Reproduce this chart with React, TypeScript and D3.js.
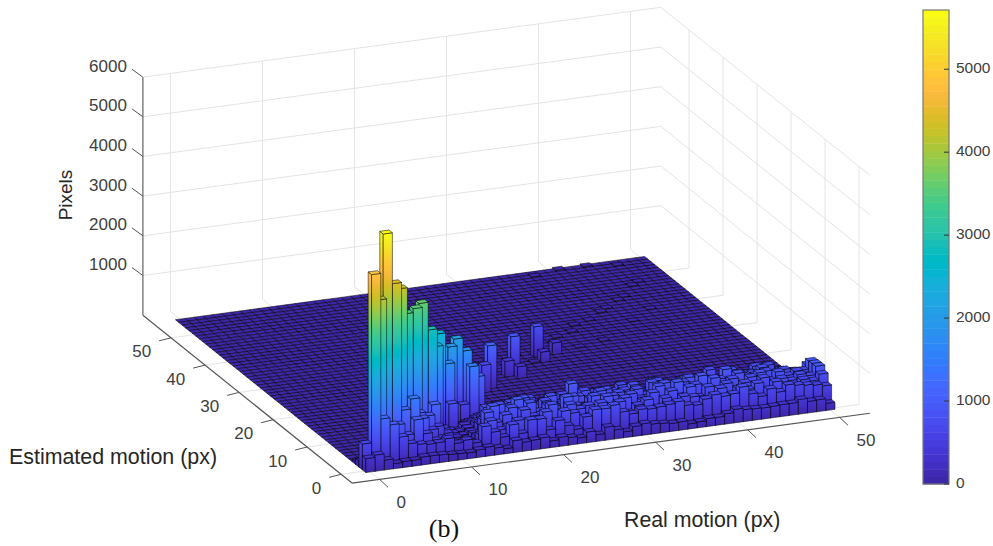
import React, { useEffect, useRef } from 'react';
import * as d3 from 'd3';

// MATLAB parula, 64 steps
const parula: number[][] = [
  [0.2422, 0.1504, 0.6603], [0.2504, 0.165, 0.7076], [0.2578, 0.1818, 0.7511], [0.2647, 0.1978, 0.7952],
  [0.2706, 0.2147, 0.8364], [0.2751, 0.2342, 0.871], [0.2783, 0.2559, 0.8991], [0.2803, 0.2782, 0.9221],
  [0.2813, 0.3006, 0.9414], [0.281, 0.3228, 0.9579], [0.2795, 0.3447, 0.9717], [0.276, 0.3667, 0.9829],
  [0.2699, 0.3892, 0.9906], [0.2602, 0.4123, 0.9952], [0.244, 0.4358, 0.9988], [0.2206, 0.4603, 0.9973],
  [0.1963, 0.4847, 0.9892], [0.1834, 0.5074, 0.9798], [0.1786, 0.5289, 0.9682], [0.1764, 0.5499, 0.952],
  [0.1687, 0.5703, 0.9359], [0.154, 0.5902, 0.9218], [0.146, 0.6091, 0.9079], [0.138, 0.6276, 0.8973],
  [0.1248, 0.6459, 0.8883], [0.1113, 0.6635, 0.8763], [0.0952, 0.6798, 0.8598], [0.0689, 0.6948, 0.8394],
  [0.0297, 0.7082, 0.8163], [0.0036, 0.7203, 0.7917], [0.0067, 0.7312, 0.766], [0.0433, 0.7411, 0.7394],
  [0.0964, 0.75, 0.712], [0.1408, 0.7584, 0.6842], [0.1717, 0.767, 0.6554], [0.1938, 0.7758, 0.6251],
  [0.2161, 0.7843, 0.5923], [0.247, 0.7918, 0.5567], [0.2906, 0.7973, 0.5188], [0.3406, 0.8008, 0.4789],
  [0.3909, 0.8029, 0.4354], [0.4456, 0.8024, 0.3909], [0.5044, 0.7993, 0.348], [0.5616, 0.7942, 0.3045],
  [0.6174, 0.7876, 0.2612], [0.672, 0.7793, 0.2227], [0.7242, 0.7698, 0.191], [0.7738, 0.7598, 0.1646],
  [0.8203, 0.7498, 0.1535], [0.8634, 0.7406, 0.1596], [0.9035, 0.733, 0.1774], [0.9393, 0.7288, 0.21],
  [0.9728, 0.7298, 0.2394], [0.9956, 0.7434, 0.2371], [0.997, 0.7659, 0.2199], [0.9952, 0.7893, 0.2028],
  [0.9892, 0.8136, 0.1885], [0.9786, 0.8386, 0.1766], [0.9676, 0.8639, 0.1643], [0.961, 0.889, 0.1537],
  [0.9597, 0.9135, 0.1423], [0.9628, 0.9373, 0.1265], [0.9691, 0.9606, 0.1064], [0.9769, 0.9839, 0.0805],
];

const motionTicks = [0, 10, 20, 30, 40, 50];
const pixelTicks = [1000, 2000, 3000, 4000, 5000, 6000];
const colorbarTicks = [0, 1000, 2000, 3000, 4000, 5000];
const maxPixels = 5714;
const colCount = 51;
const rowCount = 56;

// pixels per real motion column (x = 0..50), one array per estimated motion row
const est0 = [350,410,250,130,150,150,200,200,190,170,160,150,190,230,180,130,300,230,250,280,170,230,190,150,270,170,330,230,150,250,290,250,230,200,210,130,150,200,200,260,340,300,290,280,290,300,300,370,290,300,180];
const est1 = [650,300,1220,1040,700,500,450,420,430,500,350,400,300,680,510,350,630,380,690,680,380,580,420,300,580,730,720,780,580,500,580,560,580,610,650,530,500,620,700,630,660,800,600,500,660,550,700,660,630,600,550];
const est2 = [150,300,600,820,940,650,1000,620,420,330,300,260,240,420,720,460,520,640,480,560,760,460,720,640,400,520,800,620,760,460,620,720,460,700,520,680,640,560,480,760,520,700,640,760,500,740,620,560,700,640,780];
const est3 = [60,100,300,400,500,1210,1460,930,620,380,250,210,220,320,860,580,740,460,800,620,500,840,560,780,640,700,460,860,560,760,520,640,800,560,780,620,820,540,760,600,780,520,740,620,800,580,720,640,760,700,910];
const est4 = [0,0,60,250,500,600,900,1000,900,600,400,260,200,300,620,920,580,820,600,880,640,760,520,900,660,620,840,520,780,500,760,620,560,860,640,900,560,780,640,880,660,800,560,780,860,640,820,700,780,640,910];
const est5 = [0,0,0,100,300,400,600,800,700,1080,450,300,220,280,440,640,860,560,920,660,520,800,640,660,820,560,700,860,520,760,580,780,620,520,840,660,800,540,900,620,760,680,840,560,740,800,600,780,720,700,900];
const est6 = [0,0,0,0,120,260,400,500,500,500,350,300,240,300,400,760,500,700,600,860,520,640,820,620,560,720,620,500,800,620,720,820,560,820,600,740,600,820,560,720,680,900,600,660,720,820,620,700,640,620,750];
const est7 = [0,0,0,0,0,120,220,300,300,300,260,220,200,300,360,480,620,440,720,500,760,560,640,560,520,600,760,460,560,660,780,460,600,540,760,560,540,720,500,640,620,540,780,600,660,560,780,640,560,540,500];
const est8 = [0,0,0,0,0,0,100,160,180,200,180,160,800,240,300,400,420,620,460,680,400,500,540,500,660,900,500,620,480,560,480,640,420,460,700,580,460,620,480,560,780,460,640,500,580,720,500,540,480,420,300];
const est9 = [0,0,0,0,0,0,0,60,100,120,120,100,120,160,200,280,300,260,320,460,280,340,380,520,300,360,340,280,500,400,340,260,460,320,380,560,320,360,340,480,360,320,380,540,420,400,340,380,320,240,120];
const est10 = [0,0,0,0,0,0,0,0,30,50,60,60,80,100,580,160,180,140,180,170,150,200,220,190,160,200,180,140,180,220,180,130,140,170,200,230,170,190,170,220,190,160,200,180,220,210,170,190,150,100,50];
const est11 = [0,0,0,0,0,0,0,0,0,0,20,30,40,50,60,70,80,60,80,70,60,90,100,80,70,90,80,60,80,100,80,60,60,70,90,100,70,80,70,100,80,70,90,80,100,90,70,80,60,40,20];
const estRows = [est0, est1, est2, est3, est4, est5, est6, est7, est8, est9, est10, est11];

// isolated cells: the diagonal ridge and the small bars along it
const ridgeX = [1,2,3,4,5,6,7,7,8,9,10,11,12,13,14,15,15,16,20,21,24,25,25,29,29,31];
const ridgeY = [1,2,3,3,4,5,5,6,6,6,7,9,9,11,12,12,10,11,20,21,24,25,23,29,27,29];
const ridgeZ = [4890,4150,5714,4430,4200,3470,3570,2660,3600,2900,2380,2530,1745,2000,2100,1770,1510,1160,700,1090,400,920,300,770,270,300];

// tiny bumps on the otherwise empty floor
const bumpX = [30,32,33,35,36,38,40,41,43,44,46,47,34,37,42,45,28,27,38,41,44,47];
const bumpY = [30,32,34,35,37,38,40,41,43,44,47,48,30,31,36,39,27,30,54,55,55,54];
const bumpZ = [30,40,25,35,30,20,30,25,25,20,25,20,20,25,15,20,35,20,30,35,30,25];

const width = 993;
const height = 546;
const origin = [368.7, 470.6];
const xLim = [-3, 53.3];
const yLim = [-3.2, 58.3];

const xToLeft = d3.scaleLinear().domain([0, 50]).range([0, 460]);
const xToTop = d3.scaleLinear().domain([0, 50]).range([0, -62]);
const yToLeft = d3.scaleLinear().domain([0, 50]).range([0, -170]);
const yToTop = d3.scaleLinear().domain([0, 50]).range([0, -136.5]);
const zToTop = d3.scaleLinear().domain([0, 6000]).range([0, -238]);

const project = (x: number, y: number, z: number): [number, number] => [
  origin[0] + xToLeft(x) + yToLeft(y),
  origin[1] + xToTop(x) + yToTop(y) + zToTop(z),
];

const rgb = (c: number[]) => d3.rgb(c[0] * 255, c[1] * 255, c[2] * 255).formatHex();
const colorIndex = d3.scaleQuantize<number>().domain([0, maxPixels]).range(d3.range(64));
const poly = (pts: [number, number][]) => pts.map(p => p.map(v => v.toFixed(2)).join(',')).join(' ');

function App() {
  const ref = useRef<SVGSVGElement>(null);

  useEffect(() => {
    const svg = d3.select(ref.current);
    svg.selectAll('*').remove();
    const defs = svg.append('defs');

    const cells = d3.range(rowCount).map(() => d3.range(colCount).map(() => 0));
    estRows.forEach((row, y) => row.forEach((v, x) => { cells[y][x] = v; }));
    bumpX.forEach((x, i) => { cells[bumpY[i]][x] = bumpZ[i]; });
    ridgeX.forEach((x, i) => { cells[ridgeY[i]][x] = ridgeZ[i]; });

    const line = (a: [number, number], b: [number, number], stroke: string, w: number) =>
      svg.append('line').attr('x1', a[0]).attr('y1', a[1]).attr('x2', b[0]).attr('y2', b[1])
        .attr('stroke', stroke).attr('stroke-width', w);

    const grid = '#e4e4e4';
    // walls and floor grid
    pixelTicks.forEach(z => {
      line(project(xLim[0], yLim[1], z), project(xLim[1], yLim[1], z), grid, 1);
      line(project(xLim[1], yLim[1], z), project(xLim[1], yLim[0], z), grid, 1);
    });
    motionTicks.forEach(t => {
      line(project(t, yLim[1], 0), project(t, yLim[1], 6000), grid, 1);
      line(project(xLim[1], t, 0), project(xLim[1], t, 6000), grid, 1);
      line(project(t, yLim[0], 0), project(t, yLim[1], 0), grid, 1);
      line(project(xLim[0], t, 0), project(xLim[1], t, 0), grid, 1);
    });

    // axes
    const axisColor = '#555555';
    line(project(xLim[0], yLim[0], 0), project(xLim[1], yLim[0], 0), axisColor, 1.2);
    line(project(xLim[0], yLim[0], 0), project(xLim[0], yLim[1], 0), axisColor, 1.2);
    line(project(xLim[0], yLim[1], 0), project(xLim[0], yLim[1], 6000), '#777777', 1.4);

    const tickFont = 'Liberation Sans, Arial, sans-serif';
    const label = (x: number, y: number, text: string, anchor: string, size: number, fill: string) =>
      svg.append('text').attr('x', x).attr('y', y).attr('text-anchor', anchor)
        .attr('dominant-baseline', 'middle').attr('font-family', tickFont)
        .attr('font-size', size).attr('fill', fill).text(text);

    motionTicks.forEach(t => {
      const a = project(t, yLim[0], 0);
      line(a, [a[0] + 8.5, a[1] + 8], axisColor, 1);
      label(a[0] + 17, a[1] + 24, String(t), 'start', 17, '#404040');
      const b = project(xLim[0], t, 0);
      line(b, [b[0] - 12, b[1] + 3], axisColor, 1);
      label(b[0] - 20, b[1] + 15, String(t), 'end', 17, '#404040');
    });
    pixelTicks.forEach(z => {
      const a = project(xLim[0], yLim[1], z);
      line(a, [a[0] - 11, a[1] - 8], axisColor, 1);
      label(a[0] - 16, a[1] - 10, String(z), 'end', 17, '#404040');
    });

    // bars, back to front
    const bars = svg.append('g').attr('stroke', '#000').attr('stroke-opacity', 0.8)
      .attr('stroke-width', 0.65).attr('stroke-linejoin', 'round');
    d3.range(rowCount - 1, -1, -1).forEach(y => {
      d3.range(colCount - 1, -1, -1).forEach(x => {
        const h = cells[y][x];
        const x0 = x - 0.5, x1 = x + 0.5, y0 = y - 0.5, y1 = y + 0.5;
        const top = rgb(parula[colorIndex(h)]);
        if (h > 0) {
          const id = `bar-${x}-${y}`;
          const foot = project(x, y0, 0);
          const head = project(x, y0, h);
          const grad = defs.append('linearGradient').attr('id', id).attr('gradientUnits', 'userSpaceOnUse')
            .attr('x1', 0).attr('x2', 0).attr('y1', foot[1]).attr('y2', head[1]);
          const last = colorIndex(h);
          d3.range(0, last + 1).forEach(i => {
            grad.append('stop').attr('offset', last === 0 ? 0 : i / last).attr('stop-color', rgb(parula[i]));
          });
          bars.append('polygon')
            .attr('points', poly([project(x0, y0, 0), project(x0, y1, 0), project(x0, y1, h), project(x0, y0, h)]))
            .attr('fill', `url(#${id})`);
          bars.append('polygon')
            .attr('points', poly([project(x0, y0, 0), project(x1, y0, 0), project(x1, y0, h), project(x0, y0, h)]))
            .attr('fill', `url(#${id})`);
        }
        bars.append('polygon')
          .attr('points', poly([project(x0, y0, h), project(x1, y0, h), project(x1, y1, h), project(x0, y1, h)]))
          .attr('fill', top);
      });
    });

    // axis titles
    label(624, 521, 'Real motion (px)', 'start', 21.3, '#262626');
    label(9, 458, 'Estimated motion (px)', 'start', 21.4, '#262626');
    svg.append('text').attr('transform', 'translate(67,195) rotate(-90)').attr('text-anchor', 'middle')
      .attr('dominant-baseline', 'middle').attr('font-family', tickFont).attr('font-size', 19)
      .attr('fill', '#262626').text('Pixels');
    svg.append('text').attr('x', 444).attr('y', 537).attr('text-anchor', 'middle')
      .attr('font-family', 'Liberation Serif, serif').attr('font-size', 26).attr('fill', '#111').text('(b)');

    // colorbar
    const barY = d3.scaleLinear().domain([0, maxPixels]).range([484, 10]);
    const barLeft = 923;
    const barRight = 949;
    const bandEdge = d3.scaleLinear().domain([0, 64]).range([484, 10]);
    parula.forEach((c, i) => {
      svg.append('rect').attr('x', barLeft).attr('width', barRight - barLeft)
        .attr('y', bandEdge(i + 1)).attr('height', bandEdge(i) - bandEdge(i + 1) + 0.4).attr('fill', rgb(c));
    });
    svg.append('rect').attr('x', barLeft).attr('y', 10).attr('width', barRight - barLeft).attr('height', 474)
      .attr('fill', 'none').attr('stroke', '#777777').attr('stroke-width', 1.2);
    colorbarTicks.forEach(t => {
      line([barRight - 5, barY(t)], [barRight, barY(t)], '#333333', 1);
      label(956, barY(t), String(t), 'start', 15.5, '#404040');
    });
  }, []);

  return (
    <svg ref={ref} width={width} height={height} style={{ position: 'absolute', left: 0, top: 0, background: '#fff' }} />
  );
}

export default App;
